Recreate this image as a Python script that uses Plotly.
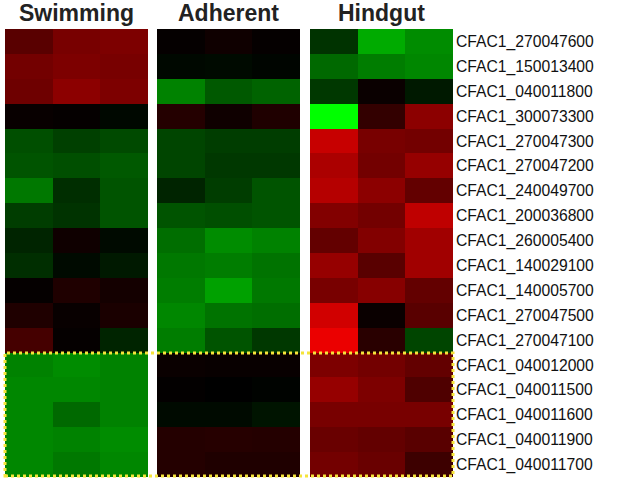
import plotly.graph_objects as go

genes = ["CFAC1_270047600", "CFAC1_150013400", "CFAC1_040011800", "CFAC1_300073300",
         "CFAC1_270047300", "CFAC1_270047200", "CFAC1_240049700", "CFAC1_200036800",
         "CFAC1_260005400", "CFAC1_140029100", "CFAC1_140005700", "CFAC1_270047500",
         "CFAC1_270047100", "CFAC1_040012000", "CFAC1_040011500", "CFAC1_040011600",
         "CFAC1_040011900", "CFAC1_040011700"]
reps = ["1", "2", "3"]

swimming = [
    [0.35, 0.47, 0.49], [0.45, 0.49, 0.47], [0.43, 0.55, 0.49], [0.03, 0.02, -0.03],
    [-0.31, -0.25, -0.29], [-0.33, -0.31, -0.35], [-0.47, -0.18, -0.33], [-0.24, -0.20, -0.33],
    [-0.14, 0.06, -0.04], [-0.18, -0.04, -0.10], [0.02, 0.12, 0.08], [0.12, 0.03, 0.10],
    [0.27, 0.02, -0.14], [-0.51, -0.55, -0.51], [-0.53, -0.53, -0.51], [-0.53, -0.41, -0.51],
    [-0.53, -0.51, -0.55], [-0.53, -0.47, -0.53]]
adherent = [
    [0.02, 0.06, 0.02], [-0.03, -0.04, -0.02], [-0.51, -0.35, -0.39], [0.14, 0.06, 0.12],
    [-0.27, -0.24, -0.24], [-0.27, -0.22, -0.22], [-0.14, -0.24, -0.33], [-0.33, -0.31, -0.33],
    [-0.43, -0.55, -0.51], [-0.47, -0.49, -0.45], [-0.49, -0.63, -0.47], [-0.53, -0.45, -0.43],
    [-0.49, -0.33, -0.22], [0.04, 0.03, 0.03], [0.01, 0.00, -0.01], [-0.04, -0.04, -0.08],
    [0.14, 0.15, 0.14], [0.14, 0.12, 0.12]]
hindgut = [
    [-0.20, -0.67, -0.55], [-0.41, -0.49, -0.53], [-0.22, 0.04, -0.10], [-1.00, 0.20, 0.55],
    [0.78, 0.47, 0.45], [0.67, 0.45, 0.59], [0.71, 0.55, 0.39], [0.51, 0.45, 0.75],
    [0.39, 0.51, 0.63], [0.59, 0.35, 0.63], [0.47, 0.53, 0.39], [0.82, 0.04, 0.35],
    [0.92, 0.16, -0.27], [0.49, 0.45, 0.39], [0.59, 0.49, 0.31], [0.47, 0.47, 0.47],
    [0.41, 0.39, 0.35], [0.45, 0.41, 0.24]]
titles = ["Swimming", "Adherent", "Hindgut"]

W, H = 625, 484
cs = [[0, "rgb(0,255,0)"], [0.5, "rgb(0,0,0)"], [1, "rgb(255,0,0)"]]
doms = [(5, 148), (157, 300), (310, 453)]
top, bot = 29, 477

fig = go.Figure()
for i, z in enumerate([swimming, adherent, hindgut]):
    xa = "x" if i == 0 else "x%d" % (i + 1)
    fig.add_trace(go.Heatmap(z=z, x=reps, y=genes, colorscale=cs, zmin=-1, zmax=1,
                             showscale=False, xaxis=xa, yaxis="y"))
    key = "xaxis" if i == 0 else "xaxis%d" % (i + 1)
    fig.layout[key] = dict(domain=[doms[i][0] / W, doms[i][1] / W], showticklabels=False,
                           showgrid=False, zeroline=False, ticks="", anchor="y",
                           automargin=False)
    fig.add_annotation(text="<b>%s</b>" % titles[i], x=(doms[i][0] + doms[i][1]) / 2 / W,
                       y=1 - 13 / H, xref="paper", yref="paper", showarrow=False,
                       xanchor="center", yanchor="middle",
                       font=dict(size=23, color="#222222", family="Liberation Sans"))

fig.update_layout(
    width=W, height=H, margin=dict(l=0, r=0, t=0, b=0),
    plot_bgcolor="white", paper_bgcolor="white",
    yaxis=dict(domain=[1 - bot / H, 1 - top / H], autorange="reversed", anchor="x3",
               side="right", showgrid=False, zeroline=False, ticks="", ticklabelstandoff=2,
               automargin=False,
               tickfont=dict(size=15.7, color="#111111", family="Liberation Sans")),
)

# dotted yellow box around the last five genes
fig.add_shape(type="rect", xref="paper", yref="paper", x0=5 / W, x1=453 / W,
              y0=1 - 476 / H, y1=1 - 353 / H,
              line=dict(color="#f5e43a", width=3, dash="dot"))

fig.write_html("out.html", config={"displayModeBar": False},
               post_script="document.body.style.margin='0';")
